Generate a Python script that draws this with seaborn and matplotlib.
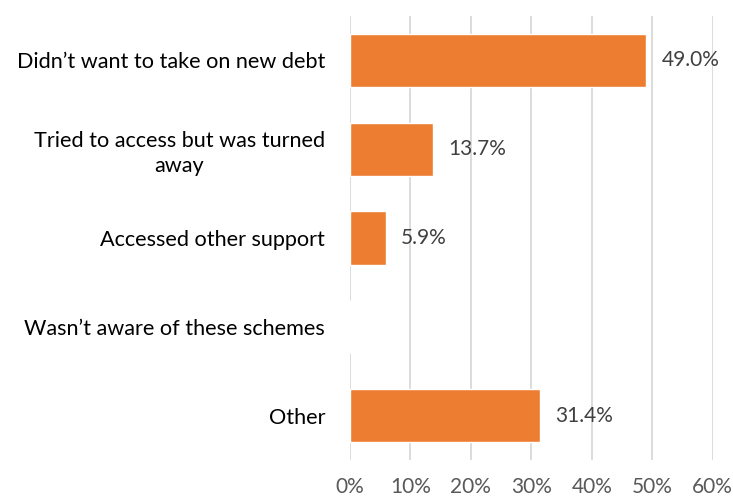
import matplotlib
matplotlib.use("Agg")
import matplotlib.pyplot as plt
import seaborn as sns
import pandas as pd

categories = [
    "Didn\u2019t want to take on new debt",
    "Tried to access but was turned\naway",
    "Accessed other support",
    "Wasn\u2019t aware of these schemes",
    "Other",
]
values = [49.0, 13.7, 5.9, 0.0, 31.4]
ticks = [0, 10, 20, 30, 40, 50, 60]

df = pd.DataFrame({"reason": categories, "share": values})

sns.set_theme(style="white")
plt.rcParams["font.family"] = ["Lato", "DejaVu Sans"]

fig = plt.figure(figsize=(7.33, 5.0), dpi=100)
ax = fig.add_axes([0.4775, 0.08, 0.4948, 0.888])

sns.barplot(data=df, x="share", y="reason", color="#ED7D31", saturation=1,
            width=0.6, ax=ax, zorder=3)

ax.set_xlim(0, 60)
ax.set_xticks(ticks)
ax.set_xticklabels([f"{t}%" for t in ticks])
ax.xaxis.grid(True, color="#D9D9D9", linewidth=1.3, zorder=0)
ax.set_axisbelow(True)
for s in ax.spines.values():
    s.set_visible(False)
ax.set_xlabel("")
ax.set_ylabel("")
ax.tick_params(axis="x", length=0, pad=12, labelsize=15, labelcolor="#595959")
ax.tick_params(axis="y", length=0, pad=18, labelsize=15.6, labelcolor="#000000")
for lbl in ax.get_yticklabels():
    lbl.set_multialignment("center")
    lbl.set_linespacing(1.3)

for i, v in enumerate(values):
    if v > 0:
        ax.text(v + 2.5, i, f"{v:.1f}%", va="center", ha="left",
                fontsize=15, color="#404040")

fig.savefig("out.png", dpi=100)
